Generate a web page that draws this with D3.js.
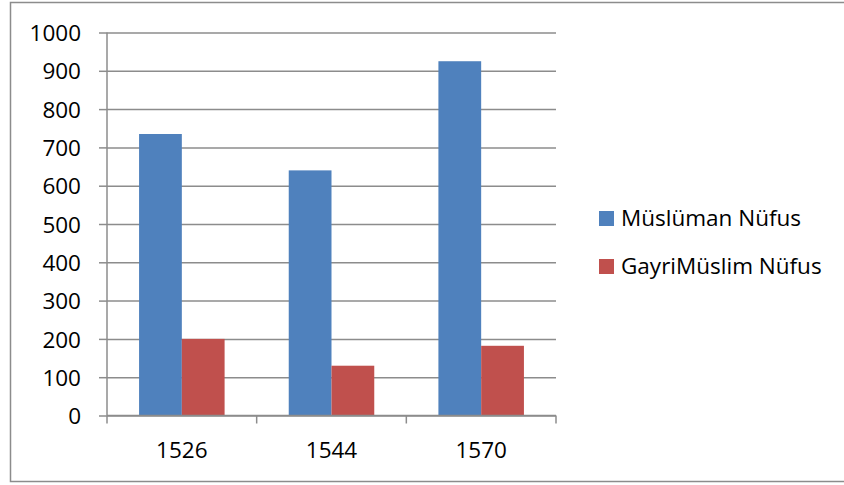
<!DOCTYPE html>
<html>
<head>
<meta charset="utf-8">
<script src="https://cdn.jsdelivr.net/npm/d3@7"></script>
<style>
html,body{margin:0;padding:0;background:#fff;}
svg{display:block;}
text{font-family:"Open Sans",sans-serif;fill:#000;}
</style>
</head>
<body>
<svg id="chart" width="844" height="485"></svg>
<script>
const categories = ["1526", "1544", "1570"];
const seriesNames = ["Müslüman Nüfus", "GayriMüslim Nüfus"];
const muslim = [735, 640, 925];
const nonMuslim = [200, 130, 182];
const yTicks = [0, 100, 200, 300, 400, 500, 600, 700, 800, 900, 1000];
const colors = ["#4F81BD", "#C0504D"];

const svg = d3.select("#chart");
const plot = {left: 107, right: 556, top: 32.5, bottom: 415.5};

// outer border
svg.append("rect")
  .attr("x", 10.5).attr("y", 2.5)
  .attr("width", 850).attr("height", 479)
  .attr("fill", "none").attr("stroke", "#8c8c8c").attr("stroke-width", 1.5);

const y = d3.scaleLinear().domain([0, 1000]).range([plot.bottom, plot.top]);
const x0 = d3.scaleBand().domain(categories).range([plot.left, plot.right]).paddingInner(0).paddingOuter(0);
const x1 = d3.scaleBand().domain(seriesNames).range([0, x0.bandwidth()]).paddingInner(0).paddingOuter(0.75);

// gridlines
const yAxis = d3.axisLeft(y).tickValues(yTicks).tickSize(-(plot.right - plot.left)).tickFormat("");
const gGrid = svg.append("g").attr("transform", `translate(${plot.left},0)`).call(yAxis);
gGrid.select(".domain").remove();
gGrid.selectAll("line").attr("stroke", "#8c8c8c").attr("stroke-width", 1.5);

// y outer ticks and labels
const yAxis2 = d3.axisLeft(y).tickValues(yTicks).tickSize(8).tickPadding(18).tickFormat(d3.format("d"));
const gY = svg.append("g").attr("transform", `translate(${plot.left},0)`).call(yAxis2);
gY.select(".domain").remove();
gY.selectAll("line").attr("stroke", "#8c8c8c").attr("stroke-width", 1.5);
gY.selectAll("text").attr("font-size", "22.5px").attr("font-family", "'Open Sans', sans-serif").attr("dy", "0.36em");

// bars
const data = categories.map((c, i) => ({cat: c, vals: [muslim[i], nonMuslim[i]]}));
const groups = svg.append("g").selectAll("g").data(data).join("g")
  .attr("transform", d => `translate(${x0(d.cat)},0)`);
groups.selectAll("rect").data(d => d.vals.map((v, j) => ({name: seriesNames[j], v, j})))
  .join("rect")
  .attr("x", d => x1(d.name))
  .attr("y", d => y(d.v))
  .attr("width", x1.bandwidth())
  .attr("height", d => y(0) - y(d.v))
  .attr("fill", d => colors[d.j]);

// y axis line
svg.append("line")
  .attr("x1", plot.left).attr("x2", plot.left)
  .attr("y1", plot.top).attr("y2", plot.bottom)
  .attr("stroke", "#8c8c8c").attr("stroke-width", 1.5);

// x axis
const xBoundary = d3.scaleLinear().domain([0, categories.length]).range([plot.left, plot.right]);
svg.append("line")
  .attr("x1", plot.left).attr("x2", plot.right)
  .attr("y1", plot.bottom).attr("y2", plot.bottom)
  .attr("stroke", "#8c8c8c").attr("stroke-width", 1.5);
svg.append("g").selectAll("line").data(d3.range(categories.length + 1)).join("line")
  .attr("x1", d => xBoundary(d)).attr("x2", d => xBoundary(d))
  .attr("y1", plot.bottom).attr("y2", plot.bottom + 8)
  .attr("stroke", "#8c8c8c").attr("stroke-width", 1.5);
svg.append("g").selectAll("text").data(categories).join("text")
  .attr("x", d => x0(d) + x0.bandwidth() / 2)
  .attr("y", 458)
  .attr("text-anchor", "middle")
  .attr("font-size", "22.5px")
  .text(d => d);

// legend
const legend = svg.append("g").selectAll("g").data(seriesNames).join("g")
  .attr("transform", (d, i) => `translate(599,${211 + i * 48})`);
legend.append("rect").attr("width", 15).attr("height", 15).attr("fill", (d, i) => colors[i]);
legend.append("text").attr("x", 22).attr("y", 15).attr("font-size", "22.5px").text(d => d);
</script>
</body>
</html>
